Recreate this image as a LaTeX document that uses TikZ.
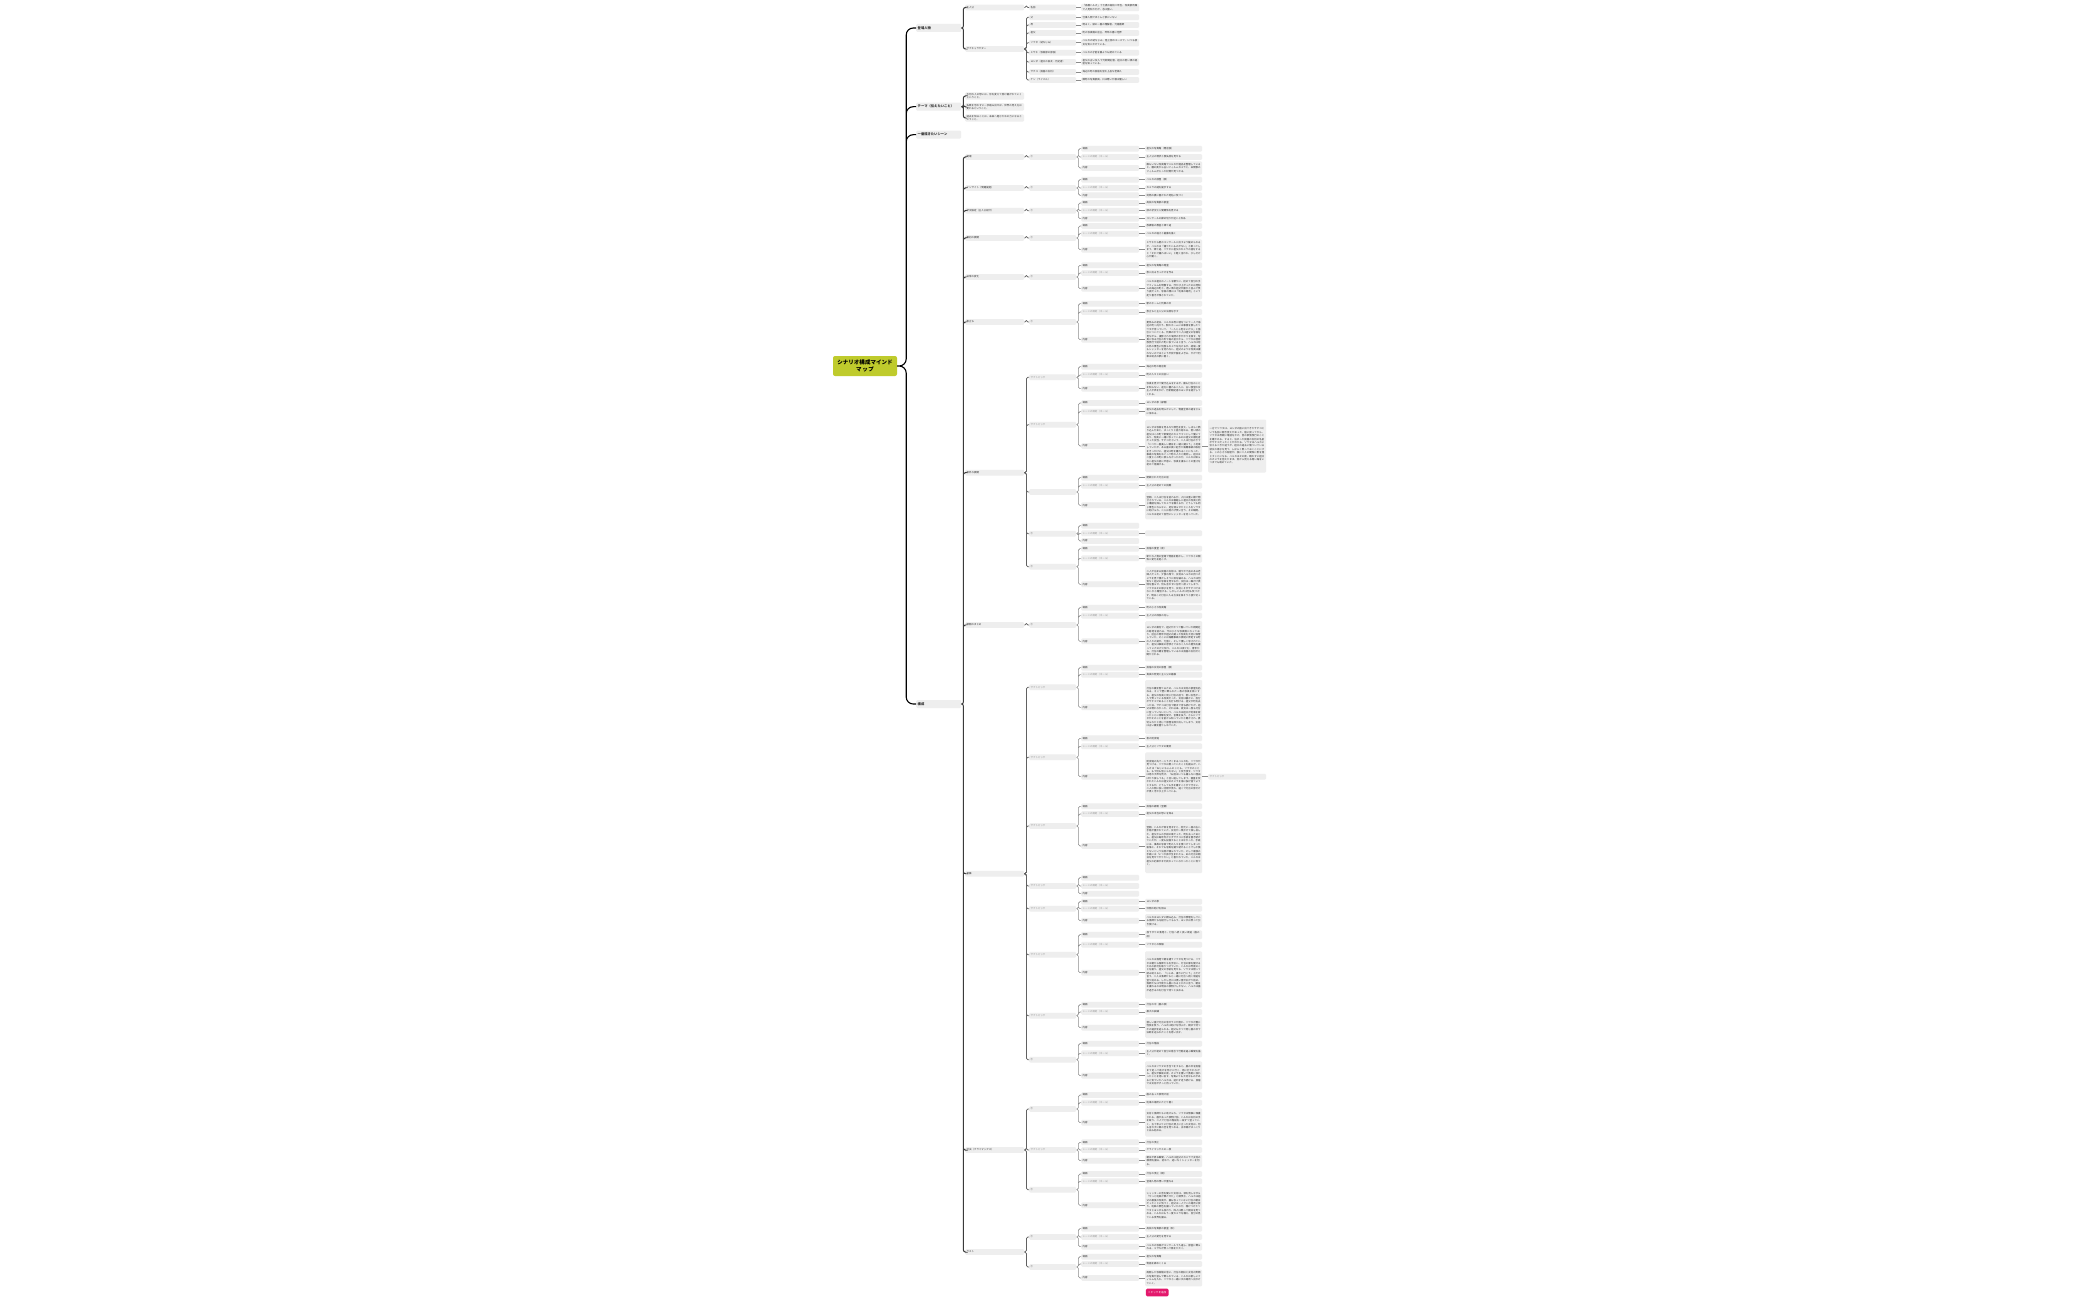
\documentclass[tikz,border=0pt]{standalone}
\usepackage{fontspec}
\setmainfont{Noto Sans CJK JP}
\XeTeXlinebreaklocale "ja"
\XeTeXlinebreakskip=0pt plus 0.4pt

\definecolor{boxgray}{HTML}{EEEEEE}
\definecolor{txtdark}{HTML}{2B2B2B}
\definecolor{txtpale}{HTML}{8E8E8E}
\definecolor{rootgreen}{HTML}{BFCB2C}
\definecolor{linedark}{HTML}{3A3A3A}
\definecolor{linegray}{HTML}{8C8C8C}
\definecolor{btnpink}{HTML}{E3186C}

\newcommand{\sub}{\textcolor{txtpale}{サブトピック}}
% one scene: topic, its three heads and the links
\newcommand{\hako}[7]{%
  \node[lv3] (#1) at (1029,#3) {#4};
  \node[lv4] (#1a) at (1081,#5) {場面};
  \node[lv4,pale] (#1b) at (1081,#6) {シーンの目的（ゴール）};
  \node[lv4] (#1c) at (1081,#7) {内容};
  \draw[link2] (#2.east) to[elbow] (#1.west);
  \draw[link3] (#1.east) to[elbow] (#1a.west) (#1.east) to[elbow] (#1b.west)
               (#1.east) to[elbow] (#1c.west);
}
% text hanging on a head
\newcommand{\fusen}[5]{%
  \node[lv5,#4] (#1) at (1145,#3) {#5};
  \draw[link4] (#2.east) -- (#2.east -| #1.west);
}
% one character
\newcommand{\chara}[5]{%
  \node[lv3] (#1) at (1029,#3) {#4};
  \node[lv4] (#1x) at (1081,#3) {#5};
  \draw[link2] (#2.east) to[elbow] (#1.west);
  \draw[link3] (#1.east) -- (#1.east -| #1x.west);
}

\begin{document}
\begin{tikzpicture}[x=1pt,y=-1pt,
  box/.style={fill=boxgray,rounded corners=1.2pt,anchor=west,inner xsep=1.5pt,
    inner ysep=0.9pt,align=left,text=txtdark,minimum height=5.8pt,
    font=\fontsize{2.45}{3.4}\selectfont},
  root/.style={fill=rootgreen,rounded corners=2pt,text width=58pt,align=center,
    minimum height=20pt,inner xsep=3pt,font=\bfseries\fontsize{5.5}{7.5}\selectfont},
  lv1/.style={box,text width=42pt,minimum height=8pt,font=\bfseries\fontsize{3.3}{4.2}\selectfont},
  lv2/.style={box,text width=56pt},
  lv3/.style={box,text width=44pt},
  lv4/.style={box,text width=55pt},
  lv5/.style={box,text width=54pt},
  lv6/.style={box,text width=55pt},
  pale/.style={text=txtpale},
  btn/.style={fill=btnpink,rounded corners=1.2pt,anchor=west,text=white,minimum width=22.6pt,
    minimum height=7.6pt,inner sep=0.8pt,font=\fontsize{2.6}{3.2}\selectfont},
  elbow/.style={to path={-- ++(#1,0) |- (\tikztotarget)}},
  elbow/.default=2,
  link0/.style={draw=black,line width=1.1pt,rounded corners=7pt},
  link1/.style={draw=linedark,line width=1pt,rounded corners=2pt},
  link2/.style={draw=linedark!80,line width=0.7pt,rounded corners=1.5pt},
  link3/.style={draw=linegray,line width=0.55pt,rounded corners=1.5pt},
  link4/.style={draw=linegray,line width=0.5pt}]

\path[use as bounding box,fill=white] (0,0) rectangle (2099,1300);

\node[root] (root) at (865,366) {シナリオ構成マインド\\マップ};
\node[lv1] (jinbutsu) at (916,28) {登場人物};
\node[lv1] (theme) at (916,106.7) {テーマ（伝えたいこと）};
\node[lv1] (best) at (916,134.7) {一番描きたいシーン};
\node[lv1] (kousei) at (916,704) {構成};
\draw[link0] (root.east) to[elbow=9] (jinbutsu.west) (root.east) to[elbow=9] (theme.west)
             (root.east) to[elbow=9] (best.west) (root.east) to[elbow=9] (kousei.west);

% characters
\node[lv2] (shujinko) at (965,7.5) {主人公};
\node[lv2] (subchara) at (965,49) {サブキャラクター};
\draw[link1] (jinbutsu.east) to[elbow] (shujinko.west) (jinbutsu.east) to[elbow] (subchara.west);
\chara{mc}{shujinko}{7.5}{名前}{「高橋ハルカ」十七歳の高校二年生。写真部所属で人見知りだが、芯は強い。}
\chara{sc1}{subchara}{17.3}{父}{仕事人間でほとんど家にいない}
\chara{sc2}{subchara}{25}{母}{明るく、娘の一番の理解者。元看護師}
\chara{sc3}{subchara}{33}{祖父}{町の写真館の店主。昨年の春に他界}
\chara{sc4}{subchara}{42.7}{ソウタ（幼なじみ）}{ハルカの幼なじみ。陸上部のエースで、いつも彼女を気にかけている。}
\chara{sc5}{subchara}{52.7}{ミサキ（写真部の部長）}{ハルカの才能を誰よりも認めている}
\chara{sc6}{subchara}{62}{ヨシダ（祖父の旧友・元記者）}{祖父の古い友人で元新聞記者。祖父の若い頃の秘密を知っている。}
\chara{sc7}{subchara}{72}{サチコ（民宿の女将）}{海辺の町の民宿を営む上品な老婦人}
\chara{sc8}{subchara}{80}{ケン（ライバル）}{隣町の写真部員。口は悪いが根は優しい}

% theme
\node[lv2] (th1) at (965,96) {大切な人の想いは、形を変えて受け継がれていくということ。};
\node[lv2] (th2) at (965,106.8) {失敗を恐れずに一歩踏み出せば、世界の見え方は変わるということ。};
\node[lv2] (th3) at (965,118) {過去を知ることは、未来へ進むための力になるということ。};
\draw[link1] (theme.east) to[elbow] (th1.west) (theme.east) to[elbow] (th2.west)
             (theme.east) to[elbow] (th3.west);

% structure
\node[lv2] (k1) at (965,157) {発端};
\node[lv2] (k2) at (965,188) {インサイト（問題提起）};
\node[lv2] (k3) at (965,210.7) {状況設定（主人公紹介）};
\node[lv2] (k4) at (965,238) {最初の展開};
\node[lv2] (k5) at (965,277) {日常の変化};
\node[lv2] (k6) at (965,322) {旅立ち};
\node[lv2] (k7) at (965,472.7) {意外な展開};
\node[lv2] (k8) at (965,625) {展開のまとめ};
\node[lv2] (k9) at (965,873.7) {葛藤};
\node[lv2] (k10) at (965,1150) {対決（クライマックス）};
\node[lv2] (k11) at (965,1252) {ラスト};
\draw[link1] (kousei.east) to[elbow] (k1.west) (kousei.east) to[elbow] (k2.west)
  (kousei.east) to[elbow] (k3.west) (kousei.east) to[elbow] (k4.west)
  (kousei.east) to[elbow] (k5.west) (kousei.east) to[elbow] (k6.west)
  (kousei.east) to[elbow] (k7.west) (kousei.east) to[elbow] (k8.west)
  (kousei.east) to[elbow] (k9.west) (kousei.east) to[elbow] (k10.west)
  (kousei.east) to[elbow] (k11.west);

\hako{s1}{k1}{157}{①}{148.7}{157}{168}
\fusen{s1p}{s1a}{148.7}{}{祖父の写真館（閉店後）}
\fusen{s1g}{s1b}{157}{}{主人公の現状と喪失感を見せる}
\fusen{s1n}{s1c}{168}{minimum height=13.4pt}{誰もいない写真館でハルカが遺品を整理していると、棚の奥から古いフィルムカメラと、未現像のフィルムが入った封筒が見つかる。}

\hako{s2}{k2}{188}{①}{179.7}{188}{195.3}
\fusen{s2p}{s2a}{179.7}{}{ハルカの部屋（夜）}
\fusen{s2g}{s2b}{188}{}{カメラの謎を提示する}
\fusen{s2n}{s2c}{195.3}{}{封筒の裏に書かれた地名に気づく}

\hako{s3}{k3}{210.7}{①}{203}{210.7}{218.7}
\fusen{s3p}{s3a}{203}{}{高校の写真部の部室}
\fusen{s3g}{s3b}{210.7}{}{部の状況と人間関係を見せる}
\fusen{s3n}{s3c}{218.7}{}{コンクールの締め切りが近いと知る}

\hako{s4}{k4}{238}{①}{226}{233.7}{249.7}
\fusen{s4p}{s4a}{226}{}{放課後の教室と帰り道}
\fusen{s4g}{s4b}{233.7}{}{ハルカの弱さと葛藤を描く}
\fusen{s4n}{s4c}{249.8}{minimum height=21pt}{ミサキから夏のコンクールに出すよう勧められるが、ハルカは「撮りたいものがない」と断ってしまう。帰り道、ソウタに祖父のカメラの話をすると「それで撮ればいい」と軽く言われ、少しだけ心が動く。}

\hako{s5}{k5}{277}{①}{265.3}{273}{288.7}
\fusen{s5p}{s5a}{265.3}{}{祖父の写真館の暗室}
\fusen{s5g}{s5b}{273}{}{旅に出るきっかけを作る}
\fusen{s5n}{s5c}{288.5}{minimum height=21.6pt}{ハルカは祖父のノートを頼りに、初めて自分の手でフィルムを現像する。浮かび上がったのは見知らぬ海辺の町と、若い頃の祖父が誰かと並んで笑う姿だった。写真の隅には「約束の場所」という走り書きが残されていた。}

\hako{s6}{k6}{322}{①}{303.7}{312}{339.7}
\fusen{s6p}{s6a}{303.7}{}{駅のホームと列車の中}
\fusen{s6g}{s6b}{312}{}{旅立ちと主人公の決意を示す}
\fusen{s6n}{s6c}{339.5}{minimum height=43.6pt}{夏休みの初日、ハルカは母に嘘をついて一人で海辺の町へ向かう。駅のホームには事情を察したソウタが待っていて、「一人じゃ危ないだろ」と強引についてくる。列車の中で二人は祖父の写真を見ながら、撮影された場所の手がかりを探す。写真に写る灯台の形や島の並びから、ソウタは昔家族旅行で訪れた町に似ていると言う。ハルカは窓の外の景色に何度もカメラを向けるが、結局一度もシャッターを切れない。祖父のような写真は撮れないのではという不安が胸をよぎる。やがて列車は終点の駅に着く。}

\hako{s7}{k7}{377.3}{\sub}{366.7}{375}{388.7}
\fusen{s7p}{s7a}{366.7}{}{海辺の町の商店街}
\fusen{s7g}{s7b}{375}{}{町の人々との出会い}
\fusen{s7n}{s7c}{389}{minimum height=15.4pt}{写真を見せて聞き込みをするが、誰も灯台のことを知らない。途方に暮れる二人に、古い食堂の女主人が声をかけ、元新聞記者のヨシダを紹介してくれる。}

\hako{s8}{k7}{424.7}{\sub}{403}{411.7}{446}
\fusen{s8p}{s8a}{403}{}{ヨシダの家（縁側）}
\fusen{s8g}{s8b}{411.7}{minimum height=9.4pt}{祖父の過去を明らかにして、物語全体の謎をさらに深める。}
\fusen{s8n}{s8c}{446}{minimum height=52.3pt}{ヨシダは写真を見るなり顔色を変え、しばらく黙り込んだあと、ゆっくりと語り始める。若い頃の祖父はこの町で新聞社のカメラマンとして働いており、写真に一緒に写っているのは祖父の婚約者だった女性、サチコだという。二人は灯台の下で「いつか一番美しい朝日を一緒に撮ろう」と約束していたが、ある嵐の夜に起きた海難事故の取材をきっかけに、祖父は町を離れることになった。事故の写真をめぐって町の人々と衝突し、祖父は二度とこの町に戻らなかったのだ。ハルカは知らない祖父の姿に戸惑い、写真を撮ることの重さを初めて意識する。}
\node[lv6,minimum height=53pt] (s8m) at (1208,446) {一方でソウタは、ヨシダの話に出てきたサチコという名前に聞き覚えがあった。宿に戻ってから、ソウタは母親に電話をかけ、昔の家族旅行のことを確かめる。すると、泊まった民宿の女将の名前がサチコだったことがわかる。ソウタはハルカに伝えるべきか迷うが、祖父の過去に傷ついている彼女の様子を見て、しばらく黙っておくことにする。この小さな秘密が、後に二人の関係に影を落とすことになる。ハルカはその夜、眠れずに祖父のカメラを抱えたまま、窓から見える暗い海をいつまでも眺めていた。};
\draw[link4] (s8n.east) -- (s8m.west);

\hako{s9}{k7}{492}{}{477.7}{485.7}{505.3}
\fusen{s9p}{s9a}{477.7}{}{閉鎖された灯台の前}
\fusen{s9g}{s9b}{485.7}{}{主人公の初めての挑戦}
\fusen{s9n}{s9c}{505.7}{minimum height=27.3pt}{翌朝、二人は灯台を訪れるが、入口は重い鎖で閉ざされている。ハルカは柵越しに祖父の写真と同じ構図を探してカメラを構えるが、どうしても同じ景色にならない。足を滑らせたところをソウタに助けられ、二人は思わず笑い合う。その瞬間、ハルカは初めて自然にシャッターを切っていた。}

\hako{s10}{k7}{533.7}{①}{525.7}{533.3}{541}
\fusen{s10g}{s10b}{533.3}{}{}

\hako{s11}{k7}{566.7}{①}{548.7}{558.3}{584.3}
\fusen{s11p}{s11a}{548.7}{}{民宿の食堂（夜）}
\fusen{s11g}{s11b}{558.3}{minimum height=8.7pt}{新たな人物の登場で物語を動かし、ソウタとの関係に変化を起こす。}
\fusen{s11n}{s11c}{585}{minimum height=36.6pt}{二人が泊まる民宿の女将は、穏やかで品のある老婦人だった。夕食の席で、女将はハルカの持つカメラを見て懐かしそうに目を細める。ハルカは何気なく祖父の写真を見せるが、女将は一瞬だけ表情を曇らせ、何も言わずに台所へ戻ってしまう。ソウタはその様子を見て、女将こそがサチコではないかと確信する。しかしハルカは何も気づかず、明日こそ灯台に入る方法を探そうと張り切っている。}

\hako{s12}{k8}{625}{①}{607.7}{615.7}{641.3}
\fusen{s12p}{s12a}{607.7}{}{町の小さな写真館}
\fusen{s12g}{s12b}{615.7}{}{主人公の成長の兆し}
\fusen{s12n}{s12c}{641.3}{minimum height=40.3pt}{ヨシダの案内で、祖父がかつて働いていた新聞社の跡地を訪れる。今は小さな写真館になっており、店主の青年が祖父の撮った写真を大切に保管していた。そこには海難事故の救助に奔走する町の人々の姿が、力強く、そして優しく写されていた。祖父は事故の悲惨さではなく人々の勇気を撮っていたのだと知り、ハルカは涙ぐむ。青年から、灯台の鍵を管理しているのは民宿の女将だと聞かされる。}

\hako{s13}{k9}{687.3}{\sub}{667.7}{674.7}{707.3}
\fusen{s13p}{s13a}{667.7}{}{民宿の女将の部屋（夜）}
\fusen{s13g}{s13b}{674.7}{}{真実の発覚と主人公の葛藤}
\fusen{s13n}{s13c}{707}{minimum height=54pt}{灯台の鍵を借りるため、ハルカは女将の部屋を訪ねる。そこで壁に飾られた一枚の写真を目にする。祖父の写真と同じ灯台の前で、若い女性が一人で笑っている写真だった。女将は静かに、自分がサチコであることを打ち明ける。祖父が町を去った日、サチコは灯台で朝まで待ち続けたが、祖父は現れなかった。それ以来、彼女は一度も灯台に登っていないという。ハルカは祖父が約束を破ったことに衝撃を受け、言葉を失う。さらにソウタがそのことを前から知っていたと聞かされ、裏切られたと感じて部屋を飛び出してしまう。女将は古い鍵を握りしめていた。}

\hako{s14}{k9}{757.3}{\sub}{738.3}{746.3}{776.7}
\fusen{s14p}{s14a}{738.3}{}{夜の防波堤}
\fusen{s14g}{s14b}{746.3}{}{主人公とソウタの衝突}
\fusen{s14n}{s14c}{776.7}{minimum height=48.7pt}{防波堤の先で一人うずくまるハルカを、ソウタが見つける。ソウタは黙っていたことを謝るが、ハルカは「おじいちゃんのことも、ソウタのことも、もう何も信じられない」と突き放す。ソウタは思わず声を荒げ、「お前はいつも撮らない理由ばかり探してる」と言い返してしまう。図星を突かれたハルカは祖父のカメラを海に投げ捨てようとするが、どうしても手を離すことができない。二人の間に長い沈黙が流れ、遠くで灯台の影だけが黒く浮かび上がっている。}
\node[lv6,pale] (s14m) at (1208,776.7) {サブトピック};
\draw[link4] (s14n.east) -- (s14m.west);

\hako{s15}{k9}{826}{\sub}{806.3}{814}{846}
\fusen{s15p}{s15a}{806.3}{}{民宿の縁側（翌朝）}
\fusen{s15g}{s15b}{814}{}{祖父の本当の想いを知る}
\fusen{s15n}{s15c}{846}{minimum height=54.3pt}{翌朝、ハルカが目を覚ますと、枕元に一冊の古い手帳が置かれていた。女将が一晩かけて探し出した、祖父からの手紙の束だった。町を去ったあとも、祖父は毎年欠かさずサチコに手紙を書き続けていたが、一度も投函することはなかった。手紙には、事故の写真で町の人々を傷つけてしまった後悔と、それでも写真を撮り続けることでしか償えないという決意が綴られていた。そして最後の手紙には「いつか孫が生まれたら、あの灯台の朝日を見せてやりたい」と書かれていた。ハルカは祖父の約束がまだ終わっていなかったことに気づく。}

\hako{s16}{k9}{886}{\sub}{877.7}{886}{893.7}

\hako{s17}{k9}{908.7}{\sub}{901.7}{908.7}{920.7}
\fusen{s17p}{s17a}{901.7}{}{ヨシダの家}
\fusen{s17g}{s17b}{908.7}{}{仲間の助けを得る}
\fusen{s17n}{s17c}{920.7}{minimum height=13.3pt}{ハルカはヨシダに頼み込み、灯台の修理をしている漁師たちを紹介してもらう。ヨシダは笑って引き受ける。}

\hako{s18}{k9}{954.7}{\sub}{934.7}{944.7}{972.7}
\fusen{s18p}{s18a}{934.7}{minimum height=8.7pt}{昼下がりの漁港と、灯台へ続く長い坂道（嵐の前）}
\fusen{s18g}{s18b}{944.7}{}{ソウタとの和解}
\fusen{s18n}{s18c}{975}{minimum height=47.4pt}{ハルカは漁港で網を繕うソウタを見つける。ソウタは朝から漁師たちを手伝い、灯台の扉を開けるための許可を取りつけていた。ハルカは昨夜のことを謝り、祖父の手紙を見せる。ソウタは黙って読み終えると、「じゃあ、撮りに行こう」とだけ言う。二人は漁師たちと一緒に灯台へ続く坂道を登り始める。しかし空には黒い雲が広がり始め、漁師たちは今夜から嵐になると口々に言う。朝日を撮れるのは明日の夜明けしかない。ハルカは嵐が過ぎるのを灯台で待つと決める。}

\hako{s19}{k9}{1015.7}{\sub}{1004.7}{1012}{1027.7}
\fusen{s19p}{s19a}{1004.7}{}{灯台の中（嵐の夜）}
\fusen{s19g}{s19b}{1012}{}{最大の試練}
\fusen{s19n}{s19c}{1027.5}{minimum height=21pt}{激しい嵐で灯台の窓ガラスが割れ、ソウタが腕に怪我を負う。ハルカは助けを呼ぶか、朝まで待つかの選択を迫られる。祖父もかつて同じ嵐の中で決断を迫られたことを思い出す。}

\hako{s20}{k9}{1059.7}{①}{1043.7}{1053.3}{1075.7}
\fusen{s20p}{s20a}{1043.7}{}{灯台の階段}
\fusen{s20g}{s20b}{1053.3}{minimum height=8pt}{主人公が初めて自分の意志で行動を選ぶ瞬間を描く。}
\fusen{s20n}{s20c}{1075.3}{minimum height=28pt}{ハルカはソウタの手当てをすると、嵐の中を民宿まで走って助けを呼びに行く。雨に打たれながら、祖父が事故の夜、カメラを置いて救助に加わったことを思い出す。写真よりも大切なものがあると気づいたハルカは、迷わず走り続ける。民宿では女将がずっと待っていた。}

\hako{s21}{k10}{1109}{①}{1095}{1102.7}{1122.7}
\fusen{s21p}{s21a}{1095}{}{嵐の去った夜明け前}
\fusen{s21g}{s21b}{1102.7}{}{約束の場所にたどり着く}
\fusen{s21n}{s21c}{1122.5}{minimum height=28.3pt}{女将と漁師たちに助けられ、ソウタは無事に保護される。嵐が去った夜明け前、ハルカは女将の手を取り、二人で灯台の階段を一段ずつ登っていく。五十年ぶりに灯台の頂上に立った女将は、何も言わずに東の空を見つめる。水平線がゆっくりと白み始める。}

\hako{s22}{k10}{1150}{\sub}{1142.3}{1150}{1160.7}
\fusen{s22p}{s22a}{1142.3}{}{灯台の頂上}
\fusen{s22g}{s22b}{1150}{}{クライマックスの一枚}
\fusen{s22n}{s22c}{1161}{minimum height=12.3pt}{朝日が昇る瞬間、ハルカは祖父のカメラで女将の横顔を撮る。初めて、迷いなくシャッターを切る。}

\hako{s23}{k10}{1189.7}{①}{1174}{1181.3}{1205.3}
\fusen{s23p}{s23a}{1174}{}{灯台の頂上（朝）}
\fusen{s23g}{s23b}{1181.3}{}{登場人物の想いが重なる}
\fusen{s23n}{s23c}{1205.3}{minimum height=37.3pt}{シャッターの音を聞いた女将は、涙を流しながら「やっと約束が果たせた」と微笑む。ハルカは祖父の最後の写真が、誰も写っていない灯台の朝日だったことに気づく。祖父は一人でこの場所に戻り、約束の景色を撮っていたのだ。駆けつけたソウタとヨシダも加わり、四人は黙って朝日を見つめる。ハルカはもう一度カメラを構え、自分の見ている世界を撮る。}

\hako{s24}{k11}{1237}{①}{1228.7}{1237}{1246.7}
\fusen{s24p}{s24a}{1228.7}{}{高校の写真部の部室（秋）}
\fusen{s24g}{s24b}{1237}{}{主人公の変化を見せる}
\fusen{s24n}{s24c}{1246.8}{minimum height=7.7pt}{ハルカの写真がコンクールで入選し、部室に飾られる。ミサキが笑って肩をたたく。}

\hako{s25}{k11}{1267}{①}{1256.7}{1264}{1278}
\fusen{s25p}{s25a}{1256.7}{}{祖父の写真館}
\fusen{s25g}{s25b}{1264}{}{物語を締めくくる}
\fusen{s25n}{s25c}{1278}{minimum height=16.6pt}{再開した写真館の窓に、灯台の朝日と女将の笑顔の写真が並んで飾られている。ハルカは新しいフィルムを入れ、ソウタと一緒に次の場所へ出かけていく。}
\node[btn] (more) at (1145.7,1292.5) {トピックを追加};

\end{tikzpicture}
\end{document}
